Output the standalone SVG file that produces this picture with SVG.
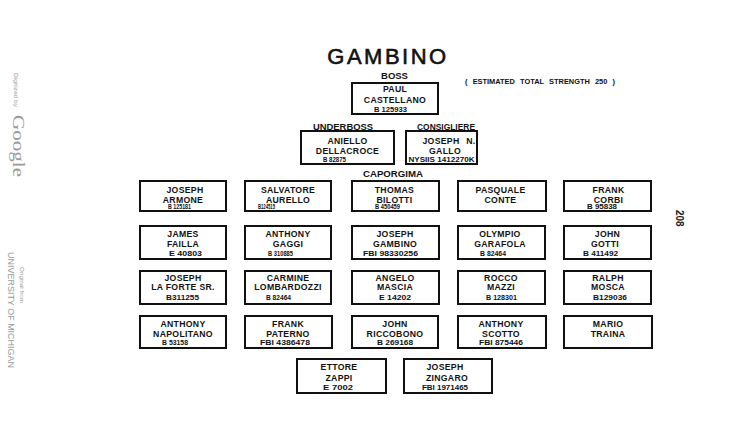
<svg xmlns="http://www.w3.org/2000/svg" width="736" height="431" viewBox="0 0 736 431">
<style>
.box{fill:#fff;stroke:#111;stroke-width:2}
.nm{font-family:"Liberation Sans",Arial,sans-serif;font-weight:bold;font-size:8.7px;fill:#111;text-anchor:middle;letter-spacing:0.3px}
.id{font-family:"Liberation Sans",Arial,sans-serif;font-weight:bold;font-size:7px;fill:#111}
.lbl{font-family:"Liberation Sans",Arial,sans-serif;font-weight:bold;font-size:9.5px;fill:#111;text-anchor:middle}
.wm{font-family:"Liberation Sans",Arial,sans-serif;fill:#9a9a9a}
</style>
<rect width="736" height="431" fill="#fff"/>
<text x="388" y="64" font-family="Liberation Sans,Arial,sans-serif" font-size="22" fill="#111" stroke="#111" stroke-width="0.6" text-anchor="middle" letter-spacing="2.5">GAMBINO</text>
<text class="lbl" x="394.5" y="79">BOSS</text>
<text class="id" x="465" y="84" font-size="6.5" textLength="150" lengthAdjust="spacingAndGlyphs" word-spacing="3">( ESTIMATED TOTAL STRENGTH  250 )</text>
<text class="lbl" x="343" y="130" textLength="60" lengthAdjust="spacingAndGlyphs">UNDERBOSS</text>
<text class="lbl" x="446" y="130" textLength="58" lengthAdjust="spacingAndGlyphs">CONSIGLIERE</text>
<text class="lbl" x="393" y="177.3" textLength="60" lengthAdjust="spacingAndGlyphs">CAPORGIMA</text>

<g id="connectors"></g>

<g id="boss"><rect class="box" x="352" y="83" width="86" height="31"/><text class="nm" x="395" y="92.3">PAUL</text><text class="nm" x="395" y="102.7">CASTELLANO</text><text class="id" x="374" y="111.5" textLength="33" lengthAdjust="spacingAndGlyphs">B 125933</text></g>
<g id="underboss"><rect class="box" x="301" y="131" width="93" height="33"/><text class="nm" x="347.5" y="144.3" letter-spacing="1.2">ANIELLO</text><text class="nm" x="347.5" y="154" letter-spacing="1">DELLACROCE</text><text class="id" x="323" y="162.3" textLength="23" lengthAdjust="spacingAndGlyphs">B 82875</text></g>
<g id="consigliere"><rect class="box" x="406" y="131" width="71" height="33"/><text class="nm" x="449" y="144.3" word-spacing="4">JOSEPH N.</text><text class="nm" x="445" y="154">GALLO</text><text class="id" x="408.5" y="162.3" textLength="66" lengthAdjust="spacingAndGlyphs">NYSIIS 1412270K</text></g>

<g id="armone"><rect class="box" x="140" y="181" width="86" height="30"/><text class="nm" x="185" y="192.5" letter-spacing="1">JOSEPH</text><text class="nm" x="183" y="202.5">ARMONE</text><text class="id" x="168" y="209.3" textLength="23" lengthAdjust="spacingAndGlyphs">B 125181</text></g>
<g id="aurello"><rect class="box" x="245" y="181" width="86" height="30"/><text class="nm" x="288" y="192.5" letter-spacing="0.8">SALVATORE</text><text class="nm" x="288" y="202.5">AURELLO</text><text class="id" x="258" y="209.3" textLength="17" lengthAdjust="spacingAndGlyphs">B124515</text></g>
<g id="bilotti"><rect class="box" x="352" y="181" width="87" height="30"/><text class="nm" x="394.5" y="192.5">THOMAS</text><text class="nm" x="394.5" y="202.5">BILOTTI</text><text class="id" x="375" y="209.3" textLength="25" lengthAdjust="spacingAndGlyphs">B 450459</text></g>
<g id="conte"><rect class="box" x="458" y="181" width="88" height="30"/><text class="nm" x="500.5" y="192.5">PASQUALE</text><text class="nm" x="500.5" y="202.5">CONTE</text></g>
<g id="corbi"><rect class="box" x="564" y="181" width="87" height="30"/><text class="nm" x="608.5" y="192.5">FRANK</text><text class="nm" x="608.5" y="202.5">CORBI</text><text class="id" x="587" y="209.3" textLength="30" lengthAdjust="spacingAndGlyphs">B 95838</text></g>

<g id="failla"><rect class="box" x="140" y="226" width="86" height="33"/><text class="nm" x="183" y="237">JAMES</text><text class="nm" x="183" y="246.5" letter-spacing="1.5">FAILLA</text><text class="id" x="169" y="256.3" textLength="33" lengthAdjust="spacingAndGlyphs">E 40803</text></g>
<g id="gaggi"><rect class="box" x="245" y="226" width="86" height="33"/><text class="nm" x="288" y="237">ANTHONY</text><text class="nm" x="288" y="246.5">GAGGI</text><text class="id" x="268" y="256.3" textLength="25" lengthAdjust="spacingAndGlyphs">B 310885</text></g>
<g id="gambino"><rect class="box" x="352" y="226" width="87" height="33"/><text class="nm" x="395" y="237">JOSEPH</text><text class="nm" x="395" y="246.5">GAMBINO</text><text class="id" x="363" y="256.3" textLength="55" lengthAdjust="spacingAndGlyphs">FBI 98330256</text></g>
<g id="garafola"><rect class="box" x="458" y="226" width="87" height="33"/><text class="nm" x="500" y="237">OLYMPIO</text><text class="nm" x="500" y="246.5" letter-spacing="1">GARAFOLA</text><text class="id" x="480" y="256.3" textLength="26" lengthAdjust="spacingAndGlyphs">B 82464</text></g>
<g id="gotti"><rect class="box" x="564" y="226" width="87" height="33"/><text class="nm" x="607.5" y="237" letter-spacing="1">JOHN</text><text class="nm" x="605" y="246.5">GOTTI</text><text class="id" x="583" y="256.3" textLength="35" lengthAdjust="spacingAndGlyphs">B 411492</text></g>

<g id="laforte"><rect class="box" x="140" y="271" width="86" height="33"/><text class="nm" x="183" y="281">JOSEPH</text><text class="nm" x="183" y="290.3">LA FORTE SR.</text><text class="id" x="166" y="300.3" textLength="33" lengthAdjust="spacingAndGlyphs">B311255</text></g>
<g id="lombardozzi"><rect class="box" x="245" y="271" width="86" height="33"/><text class="nm" x="288" y="281" letter-spacing="1">CARMINE</text><text class="nm" x="288" y="290.3" letter-spacing="0.4">LOMBARDOZZI</text><text class="id" x="266" y="300.3" textLength="25" lengthAdjust="spacingAndGlyphs">B 82464</text></g>
<g id="mascia"><rect class="box" x="352" y="271" width="87" height="33"/><text class="nm" x="395" y="281">ANGELO</text><text class="nm" x="395" y="290.3">MASCIA</text><text class="id" x="379" y="300.3" textLength="32" lengthAdjust="spacingAndGlyphs">E 14202</text></g>
<g id="mazzi"><rect class="box" x="458" y="271" width="87" height="33"/><text class="nm" x="501" y="281" letter-spacing="1">ROCCO</text><text class="nm" x="501" y="290.3" letter-spacing="1.5">MAZZI</text><text class="id" x="486" y="300.3" textLength="31" lengthAdjust="spacingAndGlyphs">B 128301</text></g>
<g id="mosca"><rect class="box" x="564" y="271" width="87" height="33"/><text class="nm" x="608" y="281">RALPH</text><text class="nm" x="608" y="290.3">MOSCA</text><text class="id" x="593" y="300.3" textLength="34" lengthAdjust="spacingAndGlyphs">B129036</text></g>

<g id="napolitano"><rect class="box" x="140" y="316" width="86" height="32"/><text class="nm" x="183" y="326.7">ANTHONY</text><text class="nm" x="183" y="337.3">NAPOLITANO</text><text class="id" x="162" y="345" textLength="26" lengthAdjust="spacingAndGlyphs">B 53158</text></g>
<g id="paterno"><rect class="box" x="245" y="316" width="87" height="32"/><text class="nm" x="288" y="326.7" letter-spacing="1">FRANK</text><text class="nm" x="288" y="337.3" letter-spacing="1.5">PATERNO</text><text class="id" x="260" y="345" textLength="50" lengthAdjust="spacingAndGlyphs">FBI 4386478</text></g>
<g id="riccobono"><rect class="box" x="352" y="316" width="86" height="32"/><text class="nm" x="395" y="326.7">JOHN</text><text class="nm" x="395" y="337.3">RICCOBONO</text><text class="id" x="377" y="345" textLength="36" lengthAdjust="spacingAndGlyphs">B 269168</text></g>
<g id="scotto"><rect class="box" x="458" y="316" width="88" height="32"/><text class="nm" x="501" y="326.7">ANTHONY</text><text class="nm" x="501" y="337.3">SCOTTO</text><text class="id" x="479" y="345" textLength="44" lengthAdjust="spacingAndGlyphs">FBI 875446</text></g>
<g id="traina"><rect class="box" x="564" y="316" width="88" height="32"/><text class="nm" x="608" y="326.7">MARIO</text><text class="nm" x="608" y="337.3">TRAINA</text></g>

<g id="zappi"><rect class="box" x="297" y="359" width="89" height="34"/><text class="nm" x="339" y="370.3" letter-spacing="0.8">ETTORE</text><text class="nm" x="339" y="381.3">ZAPPI</text><text class="id" x="323" y="389.7" textLength="30" lengthAdjust="spacingAndGlyphs">E 7002</text></g>
<g id="zingaro"><rect class="box" x="404" y="359" width="88" height="34"/><text class="nm" x="445" y="370.3">JOSEPH</text><text class="nm" x="447" y="381.3">ZINGARO</text><text class="id" x="422" y="389.7" textLength="46" lengthAdjust="spacingAndGlyphs">FBI 1971465</text></g>

<text x="676" y="210" transform="rotate(90 676 210)" font-family="Liberation Sans,Arial,sans-serif" font-weight="bold" font-size="10" fill="#222">208</text>
<text class="wm" x="14" y="73" transform="rotate(90 14 73)" font-size="6" textLength="34" lengthAdjust="spacingAndGlyphs">Digitized by</text>
<text x="13" y="115" transform="rotate(90 13 115)" font-family="Liberation Serif,Times New Roman,serif" font-size="17" fill="#9a9a9a" textLength="62" lengthAdjust="spacingAndGlyphs">Google</text>
<text class="wm" x="20" y="267" transform="rotate(90 20 267)" font-size="6" textLength="36" lengthAdjust="spacingAndGlyphs">Original from</text>
<text class="wm" x="8" y="252" transform="rotate(90 8 252)" font-size="8.5" textLength="116" lengthAdjust="spacingAndGlyphs">UNIVERSITY OF MICHIGAN</text>
</svg>
